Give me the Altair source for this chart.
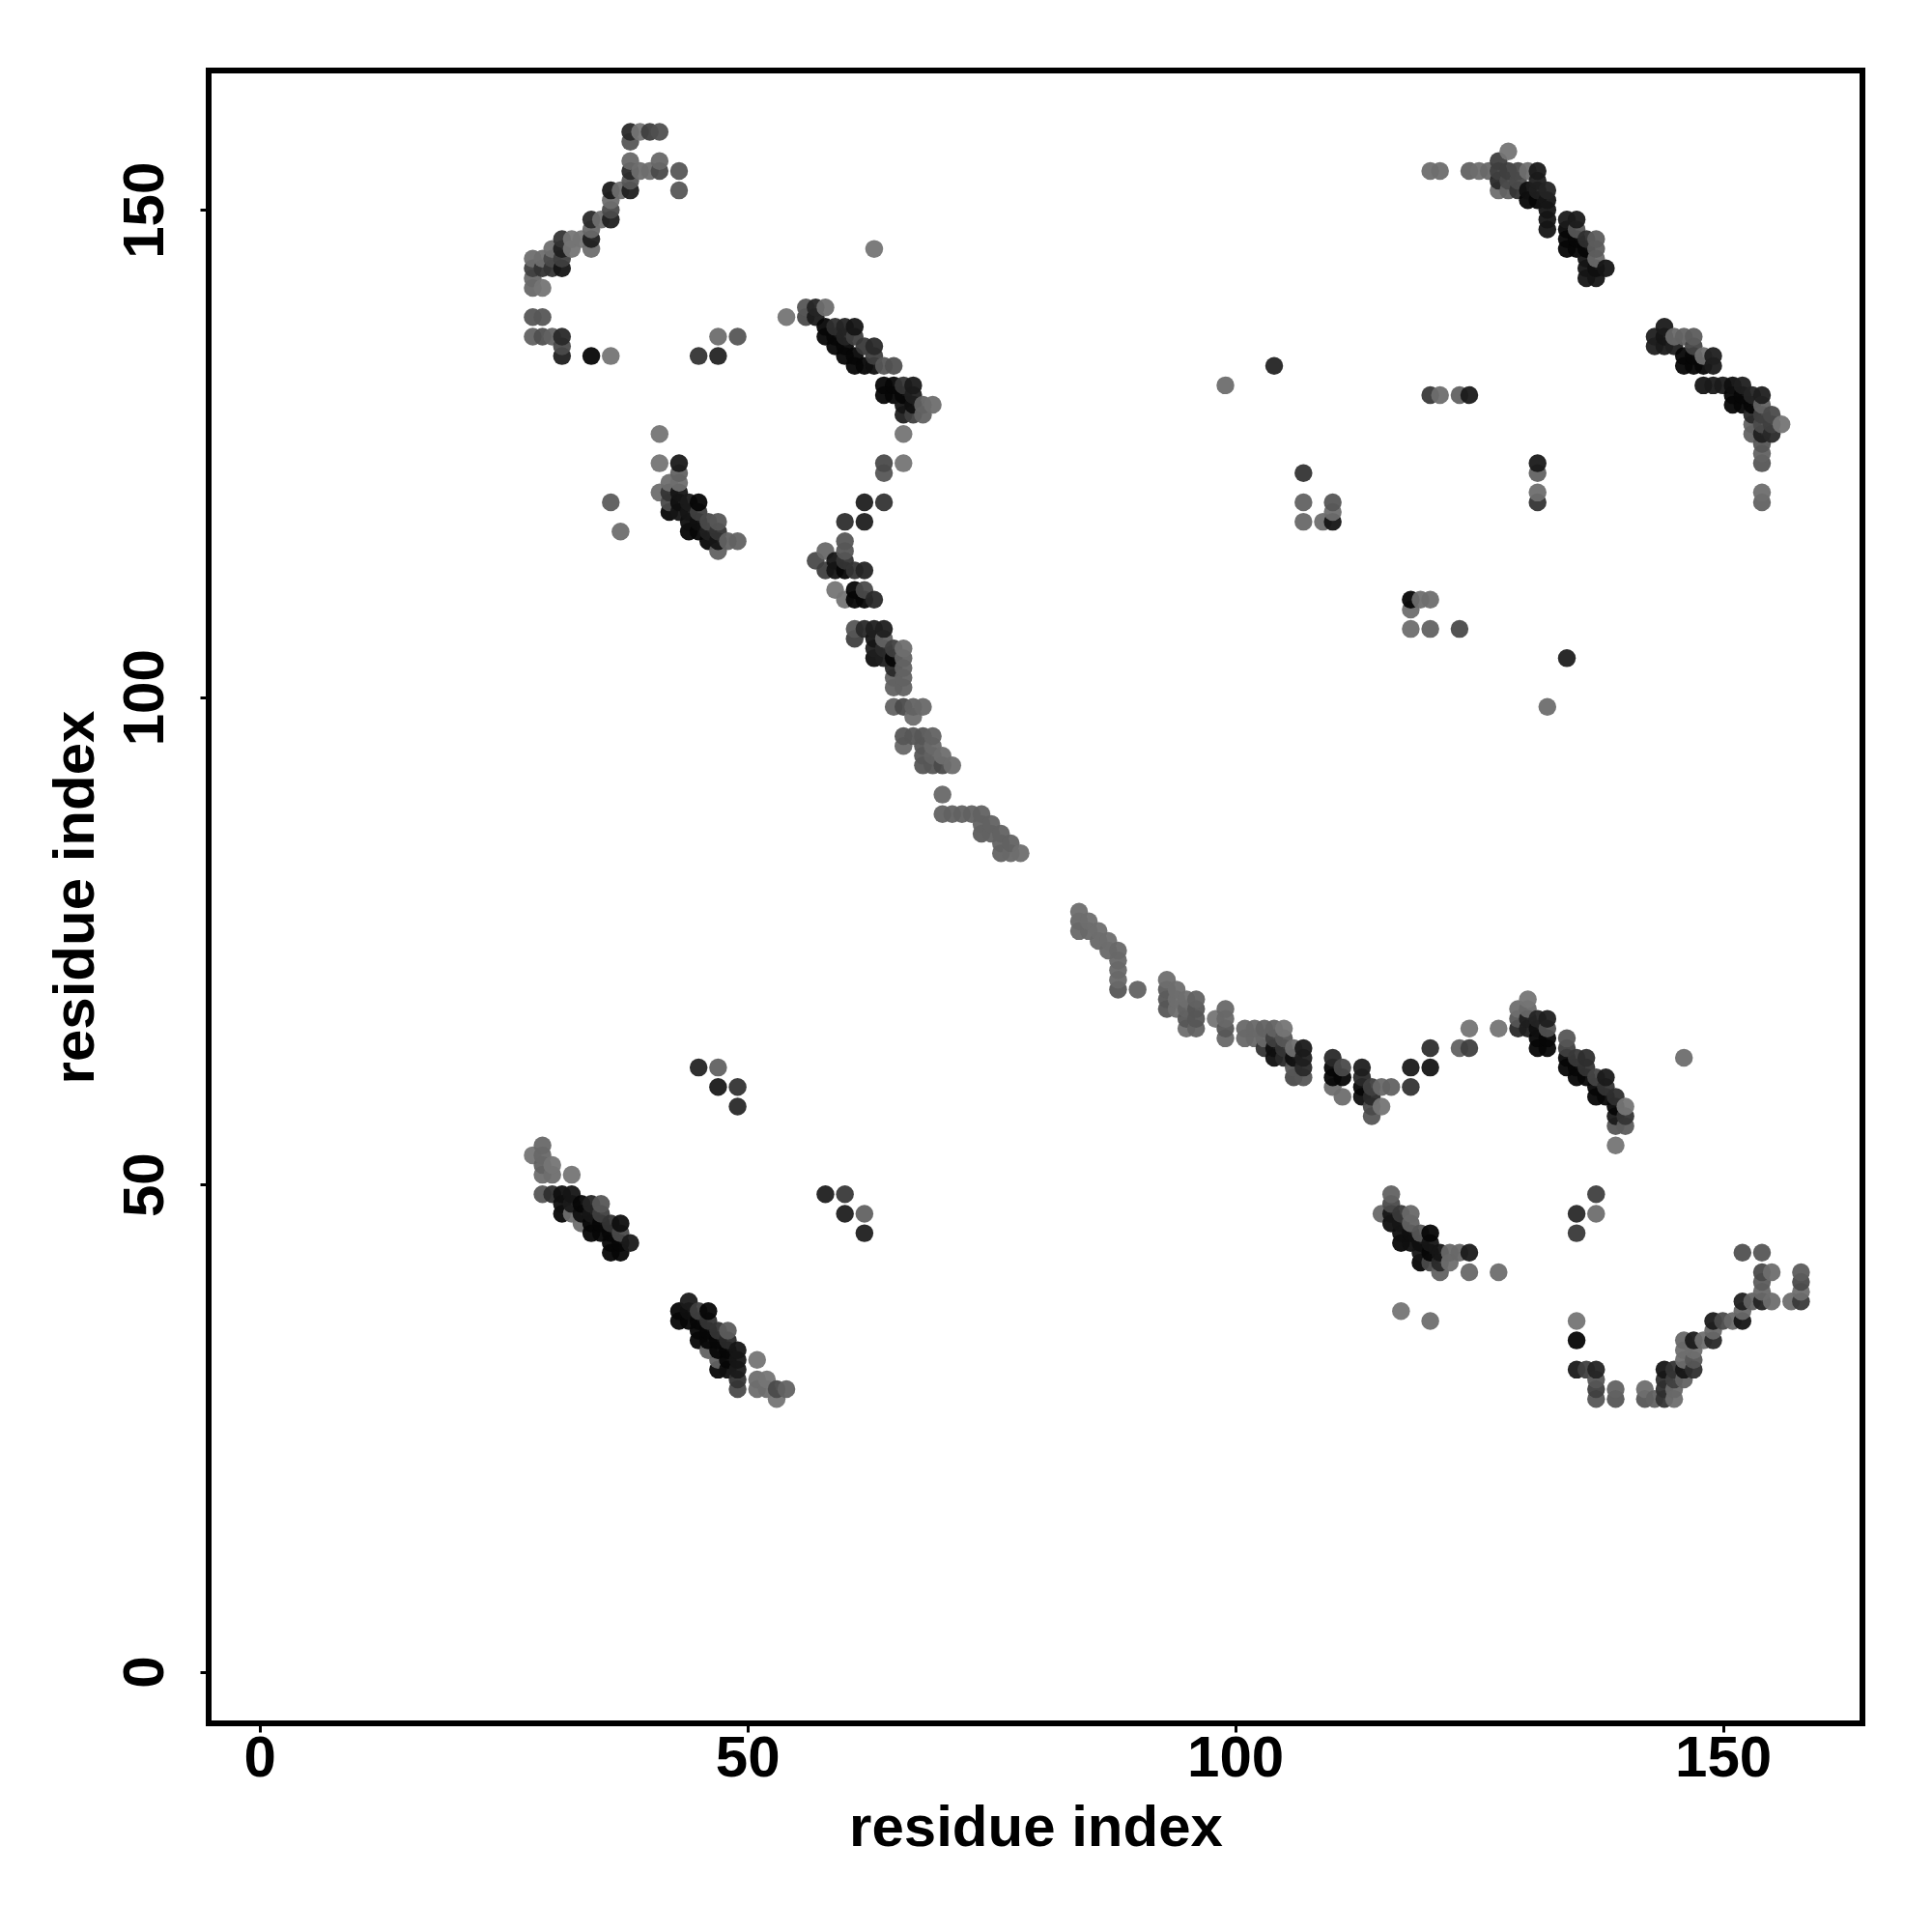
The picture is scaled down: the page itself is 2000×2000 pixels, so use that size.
import altair as alt
import pandas as pd

# (residue i, residue j, contact strength 0..1)
upper_left = [
(38,158,.7),(39,158,.05),(40,158,.5),(41,158,.35),(38,157,.3),(38,155,.15),(41,155,.15),
(38,154,.7),(39,154,.1),(40,154,.1),(41,154,.4),(43,154,.3),(38,153,.3),(36,152,.85),(37,152,.1),
(38,152,.8),(43,152,.3),(36,151,.1),(36,150,.4),(34,149,.7),(35,149,.1),(36,149,.8),(34,148,.15),
(31,147,.6),(32,147,.05),(33,147,.05),(34,147,.8),(30,146,.1),(31,146,.8),(32,146,.05),(34,146,.1),
(28,145,.1),(29,145,.1),(30,145,.4),(31,145,.5),(28,144,.5),(29,144,.6),(30,144,.6),(31,144,.9),
(28,143,.15),(28,142,.15),(29,142,.05),(28,139,.3),(29,139,.3),(28,137,.2),(29,137,.35),(30,137,.2),
(31,137,.7),(31,136,.4),(31,135,.8),(34,135,1),(36,135,.05),(45,135,.6),(47,135,.75),(47,137,.1),(49,137,.3),
]
middle_arc = [
(54,139,.05),(56,140,.3),(57,140,.75),(58,140,.1),(56,139,.4),(57,139,.85),(58,138,1),(59,138,.65),
(60,138,.75),(61,138,.9),(58,137,1),(59,137,1),(60,137,.75),(61,137,.5),(59,136,1),(60,136,1),
(62,136,.55),(63,136,.7),(60,135,1),(61,135,1),(63,135,.5),(61,134,1),(62,134,1),(63,134,.95),
(64,134,.3),(65,134,.35),(64,132,1),(65,132,1),(66,132,.6),(67,132,.85),(64,131,1),(65,131,1),
(66,131,1),(67,131,.8),(66,130,.9),(67,130,.95),(68,130,.2),(69,130,.1),(66,129,.8),(67,129,.5),
(68,129,.2),(66,127,.05),(64,124,.4),(66,124,.05),(64,123,.3),(62,120,.8),(64,120,.6),(60,118,.65),
(62,118,.8),(60,116,.3),(60,115,.3),(58,115,.15),(57,114,.4),(59,114,.9),(60,114,.6),(58,113,.5),
(59,113,.9),(60,113,1),(61,113,.6),(62,113,.75),(59,111,.05),(61,111,1),(62,111,.4),(60,110,.05),
(61,110,1),(62,110,1),(63,110,.7),(61,107,.3),(62,107,.7),(63,107,.8),(64,107,.8),(61,106,.5),
(63,106,.9),(64,106,.2),(63,105,.8),(64,105,.7),(65,105,.5),(66,105,.1),(63,104,.95),(64,104,.8),
(65,104,1),(66,104,.2),(65,103,.7),(66,103,.2),(65,102,.2),(66,102,.2),(65,101,.2),(66,101,.2),
(65,99,.2),(66,99,.4),(67,99,.2),(68,99,.15),(67,98,.1),(66,96,.3),(67,96,.3),(68,96,.3),(69,96,.2),
(66,95,.15),(68,95,.3),(69,95,.15),(68,94,.3),(69,94,.2),(70,94,.1),(68,93,.3),(69,93,.3),(70,93,.4),
(71,93,.1),(70,90,.15),(70,88,.2),(71,88,.2),(72,88,.2),(73,88,.2),(74,88,.2),(74,87,.2),(75,87,.2),
(74,86,.25),(75,86,.2),(76,86,.2),(76,85,.2),(77,85,.2),(76,84,.2),(77,84,.15),(78,84,.1),
]
helix_cluster = [
(41,127,.05),(41,124,.05),(43,124,.85),(43,123,.2),(42,122,.1),(43,122,.1),(41,121,.1),(42,121,.6),
(43,121,.9),(36,120,.25),(42,120,.4),(43,120,.95),(44,120,.85),(45,120,1),(42,119,1),(43,119,.9),
(44,119,.9),(45,119,.5),(44,118,.95),(45,118,.95),(46,118,.4),(47,118,.3),(37,117,.1),(44,117,1),
(45,117,1),(46,117,.8),(47,117,.6),(46,116,1),(47,116,.9),(48,116,.2),(49,116,.2),(47,115,.2),
]
lower_arc = [
(84,78,.1),(84,77,.15),(84,76,.15),(85,77,.1),(85,76,.15),(86,76,.1),(86,75,.15),(87,75,.1),(87,74,.15),
(88,74,.15),(88,73,.15),(88,72,.15),(88,71,.15),(88,70,.3),(90,70,.2),(93,71,.1),(93,70,.25),(93,69,.3),
(93,68,.3),(94,70,.1),(94,69,.1),(94,68,.1),(95,69,.1),(95,68,.2),(95,67,.3),(95,66,.1),(96,69,.2),
(96,68,.3),(96,67,.3),(96,66,.2),(98,67,.05),(99,68,.15),(99,67,.15),(99,66,.3),(99,65,.15),(101,66,.15),
(101,65,.15),(102,66,.15),(102,65,.15),(103,66,.2),(103,65,.15),(103,64,.6),(104,66,.2),(104,65,.5),
(104,64,.95),(104,63,.95),(105,66,.05),(105,65,.3),(105,64,.6),(105,63,.7),(106,64,.1),(106,63,.95),
(106,62,.3),(106,61,.4),(107,64,.85),(107,63,.8),(107,62,.7),(107,61,.3),(110,63,.7),(110,62,1),(110,61,1),
(111,62,.4),(111,61,1),(110,60,.1),(111,59,.1),(113,62,.8),(113,61,.7),(113,60,1),(113,59,.95),(114,60,.5),
(114,59,.7),(115,60,.15),(116,60,.2),(115,58,.05),(114,58,.4),(114,57,.3),(118,62,.85),(118,60,.6),
(120,64,.65),(120,62,.9),(123,64,.2),(124,64,.5),(124,66,.05),(127,66,.05),
(130,69,.05),(129,68,.1),(130,68,.15),(129,67,.3),(130,67,.8),(131,67,.75),(132,67,.8),(129,66,.7),
(130,66,.8),(131,66,.95),(132,66,.35),(131,65,1),(132,65,1),(131,64,1),(132,64,1),(134,65,.3),(134,64,.5),
(134,63,1),(135,63,.55),(136,63,.65),(134,62,1),(135,62,1),(136,62,.6),(135,61,1),(136,61,1),(137,61,.45),
(138,61,.85),(137,60,1),(138,60,.6),(137,59,1),(138,59,1),(139,59,.65),(139,58,1),(140,58,.05),(139,57,.85),
(140,57,.6),(139,56,.3),(140,56,.25),(139,54,.05),
]
upper_right = [
(128,156,.05),(127,155,.5),(120,154,.1),(121,154,.1),(124,154,.2),(125,154,.1),(126,154,.15),(127,154,.5),
(128,154,.5),(129,154,.4),(130,154,.1),(131,154,.85),(127,153,.7),(128,153,.4),(129,153,.4),(131,153,.8),
(127,152,.1),(128,152,.2),(129,152,.6),(130,152,.95),(131,152,.8),(132,152,.75),(130,151,1),(131,151,1),
(132,151,.9),(132,150,.9),(132,149,.9),(132,148,.9),(134,149,.85),(135,149,.85),(134,148,1),(135,148,.3),
(134,147,1),(135,147,1),(136,147,.65),(137,147,.25),(134,146,1),(135,146,1),(136,146,1),(137,146,.25),
(136,145,.9),(137,145,.15),(136,144,.9),(137,144,.95),(138,144,.9),(136,143,.9),(137,143,.9),
(144,138,.85),(143,137,.8),(144,137,.9),(145,137,.15),(146,137,.2),(147,137,.25),(143,136,.8),(144,136,.85),
(145,136,.8),(147,136,.45),(146,135,1),(147,135,1),(148,135,.1),(149,135,.8),(146,134,1),(147,134,1),
(148,134,1),(149,134,.85),(148,132,.9),(149,132,.85),(150,132,.85),(151,132,.95),(152,132,.8),(151,131,1),
(152,131,1),(153,131,.75),(154,131,.8),(151,130,1),(152,130,1),(153,130,1),(154,130,.2),(153,129,.7),
(154,129,.5),(155,129,.4),(153,128,.2),(154,128,.4),(155,128,.5),(156,128,.05),(153,127,.2),(154,127,.8),
(155,127,.7),(154,126,.3),(154,125,.2),(154,124,.3),(154,121,.1),(154,120,.2),
]
lower_left = [
(29,54,.15),(28,53,.05),(29,53,.15),(29,52,.2),(30,52,.05),(29,51,.1),(30,51,.1),(32,51,.05),(29,49,.3),
(30,49,.65),(31,49,.95),(32,49,.9),(31,48,.95),(32,48,.85),(33,48,1),(34,48,.75),(35,48,.3),(31,47,1),
(32,47,.1),(33,47,.95),(34,47,.9),(35,47,.5),(33,46,.1),(34,46,1),(35,46,1),(36,46,.6),(37,46,.95),
(34,45,1),(35,45,1),(36,45,1),(37,45,.4),(36,44,1),(37,44,1),(38,44,.85),(36,43,1),(37,43,1),
(44,38,.85),(43,37,1),(44,37,.95),(45,37,.5),(46,37,1),(43,36,1),(44,36,1),(45,36,1),(46,36,.6),
(45,35,1),(46,35,1),(47,35,.6),(48,35,.25),(45,34,1),(46,34,1),(47,34,1),(48,34,.7),(46,33,.2),(47,33,1),
(48,33,1),(49,33,.9),(47,32,.2),(48,32,1),(49,32,.9),(51,32,.05),(47,31,1),(48,31,.95),(49,31,.85),
(49,30,.6),(49,29,.4),(51,30,.1),(52,30,.05),(51,29,.1),(52,29,.1),(53,29,.4),(54,29,.2),(53,28,.05),
]
lower_right = [
(116,49,.2),(116,48,.4),(115,47,.15),(116,47,.9),(117,47,.55),(118,47,.15),(116,46,.95),(117,46,.9),
(118,46,.2),(117,45,.95),(118,45,.95),(119,45,.3),(120,45,1),(117,44,1),(118,44,.95),(119,44,.95),
(120,44,.9),(119,43,.9),(120,43,1),(121,43,.9),(122,43,.15),(123,43,.15),(124,43,.85),(119,42,1),
(120,42,.4),(121,42,.7),(122,42,.1),(121,41,.2),(124,41,.15),(127,41,.1),(117,37,.05),(120,36,.1),
(135,45,.55),(152,43,.35),(154,43,.3),(154,41,.4),(155,41,.1),(158,41,.25),(154,40,.25),(158,40,.4),
(154,39,.15),(158,39,.1),(152,38,.8),(153,38,.2),(154,38,.75),(155,38,.1),(157,38,.1),(158,38,.55),
(152,37,.15),(135,36,.05),(149,36,.85),(150,36,.4),(151,36,.15),(152,36,.9),(149,35,.15),
(146,34,.15),(147,34,.85),(148,34,.1),(149,34,.7),(146,33,.1),(147,33,.1),(146,32,.1),(147,32,.3),(135,34,1),
(135,31,.85),(136,31,.5),(137,31,.75),(144,31,.9),(145,31,.6),(146,31,.9),(147,31,.65),(137,30,.3),
(144,30,.65),(145,30,.5),(146,30,.2),(137,29,.5),(139,29,.2),(142,29,.1),(144,29,.65),(145,29,.15),
(137,28,.3),(139,28,.3),(142,28,.3),(143,28,.2),(144,28,.6),(145,28,.1),
]
isolated = [
(63,146,.05),(99,132,.1),(104,134,.75),(120,131,.55),(121,131,.1),(123,131,.2),(124,131,.85),(107,123,.6),
(107,120,.2),(107,118,.15),(109,118,.1),(110,120,.3),(110,119,.1),(110,118,.9),(131,124,.85),(131,123,.2),
(131,121,.1),(131,120,.6),(118,110,1),(118,109,.1),(119,110,.1),(120,110,.1),(118,107,.1),
(120,107,.2),(123,107,.4),(134,104,.8),(132,99,.1),(146,63,.1),(45,62,.75),(47,62,.2),(47,60,.85),
(49,60,.6),(49,58,.7),(58,49,.8),(60,49,.55),(60,47,.8),(62,47,.2),(62,45,.8),(135,47,.7),(137,49,.5),(137,47,.1),
]

tick_values = [0, 50, 100, 150]
axis_title = "residue index"

rows = upper_left + middle_arc + helix_cluster + lower_arc + upper_right + lower_left + lower_right + isolated
df = (pd.DataFrame(rows, columns=["i", "j", "strength"])
      .drop_duplicates(["i", "j"]).sort_values(["i", "j"]).reset_index(drop=True))

FONT = "Liberation Sans"
x_axis = alt.Axis(values=tick_values, title=axis_title, grid=False, domain=False, tickColor="black",
                  tickWidth=3, tickSize=9, labelFont=FONT, labelFontWeight="bold", labelFontSize=60,
                  labelColor="black", labelPadding=-2, labelFlush=False, labelOverlap=False,
                  titleFont=FONT, titleFontWeight="bold", titleFontSize=60, titleColor="black", titlePadding=13)
y_axis = alt.Axis(values=tick_values, title=axis_title, grid=False, domain=False, tickColor="black",
                  tickWidth=3, tickSize=9, labelFont=FONT, labelFontWeight="bold", labelFontSize=60,
                  labelAngle=270, labelColor="black", labelPadding=26, labelFlush=False, labelOverlap=False,
                  titleFont=FONT, titleFontWeight="bold", titleFontSize=60, titleColor="black", titlePadding=11)

chart = (
    alt.Chart(df)
    .mark_circle(size=342, opacity=0.95)
    .encode(
        x=alt.X("i:Q", scale=alt.Scale(domain=[-5.22, 164.3], nice=False, zero=False), axis=x_axis),
        y=alt.Y("j:Q", scale=alt.Scale(domain=[-5.29, 164.3], nice=False, zero=False), axis=y_axis),
        color=alt.Color("strength:Q", legend=None,
                        scale=alt.Scale(domain=[0, 1], range=["#7b7b7b", "#060606"])),
    )
    .properties(width=1712, height=1711,
                autosize=alt.AutoSizeParams(type="none"),
                padding={"left": 208, "top": 65, "right": 60, "bottom": 200},
                background="white")
    .configure_view(stroke="black", strokeWidth=6)
)

chart.save("out.html", embed_options={"renderer": "svg", "actions": False})
